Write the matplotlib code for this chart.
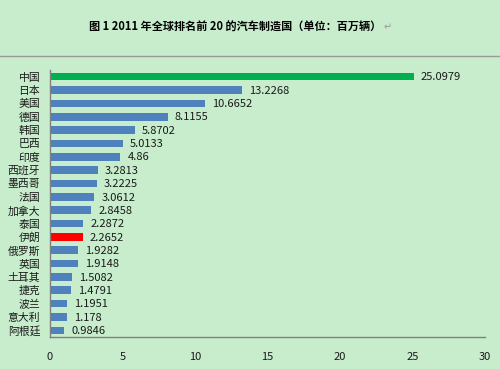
import matplotlib.pyplot as plt
from matplotlib.lines import Line2D
import numpy as np

plt.rcParams['font.family'] = ['Noto Sans CJK SC', 'DejaVu Sans']

countries = ['中国', '日本', '美国', '德国', '韩国', '巴西', '印度', '西班牙', '墨西哥', '法国',
             '加拿大', '泰国', '伊朗', '俄罗斯', '英国', '土耳其', '捷克', '波兰', '意大利', '阿根廷']
values = [25.0979, 13.2268, 10.6652, 8.1155, 5.8702, 5.0133, 4.86, 3.2813, 3.2225, 3.0612,
          2.8458, 2.2872, 2.2652, 1.9282, 1.9148, 1.5082, 1.4791, 1.1951, 1.178, 0.9846]
labels = ['25.0979', '13.2268', '10.6652', '8.1155', '5.8702', '5.0133', '4.86', '3.2813', '3.2225', '3.0612',
          '2.8458', '2.2872', '2.2652', '1.9282', '1.9148', '1.5082', '1.4791', '1.1951', '1.178', '0.9846']
xticks = [0, 5, 10, 15, 20, 25, 30]

bg = '#C8EDCD'
colors = ['#4F81BD'] * len(countries)
colors[0] = '#00B050'
colors[countries.index('伊朗')] = '#FF0000'

fig = plt.figure(figsize=(5, 3.69), dpi=100, facecolor=bg)
ax = fig.add_axes([0.1, 0.0867, 0.87, 0.7236])
ax.set_facecolor(bg)

y = np.arange(len(countries))
heights = [0.5 if i == 0 else 0.57 for i in range(len(countries))]
ax.barh(y, values, height=heights, color=colors)
for i in range(len(values)):
    ax.annotate(labels[i], (values[i], y[i]), xytext=(5, -0.5), textcoords='offset points',
                va='center', ha='left', fontsize=8, color='#1a1a1a')

ax.set_ylim(len(countries) - 0.5, -0.5)
ax.set_xlim(0, 30)
ax.set_yticks(y)
ax.set_yticklabels(countries, fontsize=7.8, color='#1a1a1a')
ax.set_xticks(xticks)
ax.set_xticklabels([str(t) for t in xticks], fontsize=8, color='#1a1a1a')
ax.tick_params(length=0)
ax.tick_params(axis='x', pad=11)
ax.tick_params(axis='y', pad=7)
for s in ['top', 'right']:
    ax.spines[s].set_visible(False)
for s in ['left', 'bottom']:
    ax.spines[s].set_color('#808080')
    ax.spines[s].set_linewidth(1)

fig.text(0.762, 0.927, '图 1 2011 年全球排名前 20 的汽车制造国（单位：百万辆）', ha='right', va='center',
         fontsize=8, fontweight='bold')
fig.text(0.768, 0.925, '↵', ha='left', va='center', fontsize=7, color='#999999')
fig.add_artist(Line2D([0, 1], [1 - 56 / 369, 1 - 56 / 369], color='#999999', lw=1))

plt.savefig('out.png', dpi=100, facecolor=bg)
